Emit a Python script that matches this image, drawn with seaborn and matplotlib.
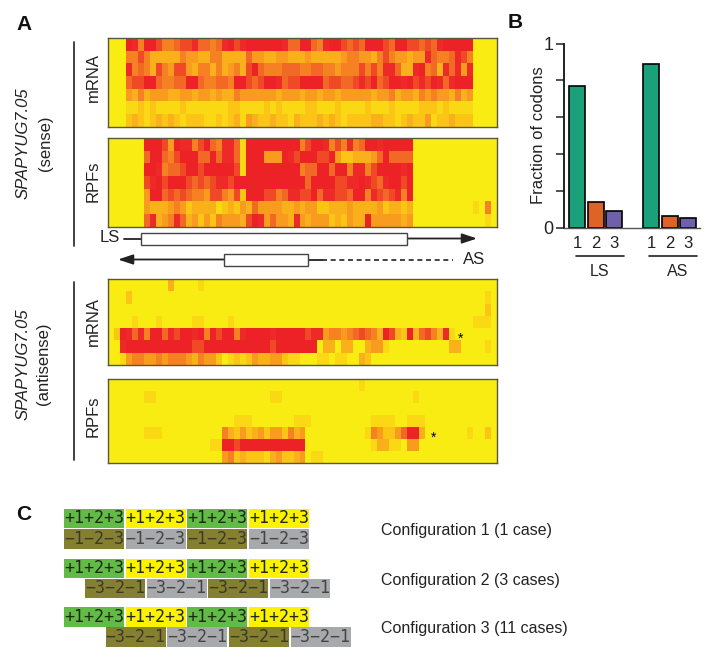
import matplotlib
matplotlib.use('Agg')
import matplotlib.pyplot as plt
import seaborn as sns
import pandas as pd
import numpy as np
from matplotlib.colors import LinearSegmentedColormap
from matplotlib.patches import Rectangle

# heat levels, 0 = yellow, 9 = red, one char per codon
sense_mrna = [
    "00098 59975 56778 66568 97899 99998 66996 58997 67699 97699 77676 89999 90000",
    "00055 75333 33544 33553 33364 43344 33343 33334 55443 57544 34486 55687 50000",
    "00085 65375 47743 55353 45379 65556 66556 65545 55757 58863 38956 38684 80000",
    "00067 79965 56699 65566 59976 79986 77999 96776 67879 67998 97879 86899 90000",
    "00043 53444 33443 44343 35444 44434 44344 34434 44443 44534 43545 44353 40000",
    "00011 21211 11211 11111 22111 12121 11122 11121 11121 11211 11222 12111 10000",
    "00023 21232 32122 21121 23143 22322 13222 32321 22223 32212 32241 22322 20000",
]
sense_rpf = [
    "00000 09997 49885 79658 86199 99999 99579 98575 85699 89999 90000 00000 00000",
    "00000 06996 57999 66968 86199 94449 87999 77942 23334 69666 60000 00000 00000",
    "00000 09985 66799 79999 97199 99999 99566 99699 58857 99998 90000 00000 00000",
    "00000 07897 99976 76788 79999 99999 99969 99977 88987 68997 90000 00000 00000",
    "00000 04996 76765 54775 47299 97756 88779 68877 69958 76785 90000 00000 00000",
    "00000 04333 45423 33312 32436 44443 34344 22333 43333 42332 30000 00000 01050",
    "00000 06834 58634 24254 44379 84644 38434 44232 43394 44443 40000 00000 00010",
]
anti_mrna = [
    "00000 00000 30000 10000 00000 00000 00000 00000 00000 00000 00000 00000 00000",
    "00020 00000 00000 00000 00000 00000 00000 00000 00000 00000 00000 00000 00010",
    "00000 00000 00000 00000 00000 00000 00000 00000 00000 00000 00000 00000 00020",
    "00001 00010 00001 10000 10000 00000 00000 00000 00000 00000 00000 00000 01110",
    "02986 85996 87998 95979 95899 99899 99978 84554 56765 39732 93675 38100 00000",
    "00899 99999 99997 79999 99999 99799 99999 03303 30034 41000 00000 00330 00010",
    "00145 54454 55543 54420 12124 33442 11000 11011 00320 00000 00000 00000 00000",
]
anti_rpf = [
    "00000 00000 00000 00000 00000 00000 00000 00000 00100 00000 00000 00000 00000",
    "00000 01100 00000 00000 00000 00110 00000 00000 00000 00000 01000 00000 00000",
    "00000 00000 00000 00000 00000 00000 00000 00000 00000 00000 00000 00000 00000",
    "00000 00000 00000 00000 01110 00000 01110 00000 00001 11100 11100 00000 00000",
    "00000 01110 00000 00005 32423 42442 53400 00000 00015 42246 99300 00000 10020",
    "00000 00000 00000 00119 97999 99999 99900 00000 00001 33110 44000 00000 00000",
    "00000 00000 00000 00004 52322 21342 23401 10000 00000 00000 00000 00000 00000",
]

# bar values
bar_names = ["LS1", "LS2", "LS3", "AS1", "AS2", "AS3"]
bar_values = [0.77, 0.14, 0.092, 0.888, 0.065, 0.049]
bar_colors = ["#1ba17a", "#dd6327", "#7060ac", "#1ba17a", "#dd6327", "#7060ac"]
bar_order = ["LS1", "LS2", "LS3", "gap", "AS1", "AS2", "AS3"]
bar_ticklabels = ["1", "2", "3", "", "1", "2", "3"]

plus_frame = "+1+2+3"
minus_frames = ["\u22121\u22122\u22123", "\u22123\u22122\u22121", "\u22123\u22122\u22121"]
config_labels = ["Configuration 1 (1 case)", "Configuration 2 (3 cases)", "Configuration 3 (11 cases)"]

sns.set_style("white")
plt.rcParams['font.family'] = ['Liberation Sans', 'DejaVu Sans']

W, H = 707, 661
fig = plt.figure(figsize=(W / 100, H / 100), dpi=100)


def px_axes(x0, y0, x1, y1):
    return fig.add_axes([x0 / W, 1 - y1 / H, (x1 - x0) / W, (y1 - y0) / H])


heat_cmap = LinearSegmentedColormap.from_list(
    "heat", [(0, "#f9ec12"), (0.22, "#fcc415"), (0.42, "#f9a01e"), (0.66, "#f26a25"), (0.92, "#ec2227"), (1, "#ec2227")])

panels = [(sense_mrna, 38, 126.5), (sense_rpf, 138, 226.5), (anti_mrna, 279, 365), (anti_rpf, 379, 463)]
for rows, y0, y1 in panels:
    ax = px_axes(108, y0, 497, y1)
    df = pd.DataFrame([[int(c) for c in r.replace(" ", "")] for r in rows])
    sns.heatmap(df, ax=ax, cmap=heat_cmap, vmin=0, vmax=9, cbar=False,
                xticklabels=False, yticklabels=False)
    for s in ax.spines.values():
        s.set_visible(True)
        s.set_color("#57573f")
        s.set_linewidth(1)

# panel B
bx = px_axes(564, 43.5, 700, 227.5)
bar_df = pd.DataFrame({"name": bar_names, "value": bar_values})
sns.barplot(data=bar_df, x="name", y="value", order=bar_order, hue="name", hue_order=bar_names,
            palette=dict(zip(bar_names, bar_colors)), legend=False, width=0.86, saturation=1,
            edgecolor="black", linewidth=1.2, ax=bx)
bx.set_xlim(-0.71, 6.64)
bx.set_ylim(0, 1)
bx.set_xticks(range(7))
bx.set_xticklabels(bar_ticklabels, fontsize=12, color="#222222")
bx.set_yticks(np.arange(0, 1.01, 0.2))
bx.set_yticklabels(["0", "", "", "", "", "1"], fontsize=13, color="#222222")
bx.tick_params(axis='y', left=True, length=5.5, width=1.1, color="#222222", pad=2)
bx.tick_params(axis='x', bottom=False, length=0, pad=6)
bx.set_xlabel("")
bx.set_ylabel("Fraction of codons", fontsize=12, color="#222222", labelpad=-2)
sns.despine(ax=bx)
bx.spines['left'].set_color("#111111")
bx.spines['left'].set_linewidth(1.3)
bx.spines['bottom'].set_color("#555555")
bx.spines['bottom'].set_linewidth(1)
bx.patch.set_alpha(0)

# everything else goes on a pixel overlay
ov = fig.add_axes([0, 0, 1, 1], zorder=5)
ov.set_xlim(0, W)
ov.set_ylim(H, 0)
ov.axis('off')
ov.patch.set_alpha(0)

txt = "#222222"
for s, x, y in [("A", 16, 25), ("B", 508, 23), ("C", 16, 515)]:
    ov.text(x, y, s, fontsize=15, fontweight='bold', color="#111111", va='center', ha='left')

ov.plot([74, 74], [41.5, 246], color="#333333", lw=1.3)
ov.plot([74, 74], [281.5, 460], color="#333333", lw=1.3)
for s, y in [("mRNA", 77), ("RPFs", 181), ("mRNA", 322), ("RPFs", 416)]:
    ov.text(93, y, s, rotation=90, fontsize=12, color=txt, ha='center', va='center')
ov.text(23, 143, "SPAPYUG7.05", rotation=90, fontsize=12, style='italic', color=txt, ha='center', va='center')
ov.text(45, 143, "(sense)", rotation=90, fontsize=12, color=txt, ha='center', va='center')
ov.text(23, 364, "SPAPYUG7.05", rotation=90, fontsize=12, style='italic', color=txt, ha='center', va='center')
ov.text(43, 364, "(antisense)", rotation=90, fontsize=12, color=txt, ha='center', va='center')

# gene diagram
ov.text(100, 238, "LS", fontsize=12, color=txt, va='center')
ov.text(463, 259.5, "AS", fontsize=12, color=txt, va='center')
ov.plot([124, 141], [238.5, 238.5], color="#222222", lw=1.3)
ov.annotate("", xy=(477, 238.5), xytext=(407, 238.5),
            arrowprops=dict(arrowstyle="-|>,head_length=0.9,head_width=0.3", color="#222222", lw=1.3,
                            shrinkA=0, shrinkB=0))
ov.add_patch(Rectangle((141, 232.5), 266, 12, fc="white", ec="#444444", lw=1, zorder=3))
ov.annotate("", xy=(118, 259.5), xytext=(224, 259.5),
            arrowprops=dict(arrowstyle="-|>,head_length=0.9,head_width=0.3", color="#222222", lw=1.3,
                            shrinkA=0, shrinkB=0))
ov.plot([307, 322], [259.5, 259.5], color="#222222", lw=1.3)
ov.plot([322, 453], [259.5, 259.5], color="#222222", lw=1.2, ls=(0, (3, 2.2)))
ov.add_patch(Rectangle((224, 254), 83.5, 12, fc="white", ec="#444444", lw=1, zorder=3))
ov.text(460.5, 338.5, "*", fontsize=10, color="black", ha='center', va='center')
ov.text(434, 437.5, "*", fontsize=10, color="black", ha='center', va='center')

# panel B brackets
for x0, x1, s, xt in [(576, 624, "LS", 600), (649, 697, "AS", 678)]:
    ov.plot([x0, x1], [256, 256], color="#222222", lw=1.2)
    ov.text(xt, 272, s, fontsize=11.5, color=txt, ha='center', va='center')

# panel C
config_rows = [(508.5, 529, 64), (558.5, 578.5, 85), (607, 627, 105.5)]
for k, (y_top, y_bot, x_bot) in enumerate(config_rows):
    for j in range(4):
        x = 64 + j * 61.7
        c = "#62bb46" if j % 2 == 0 else "#fff200"
        ov.add_patch(Rectangle((x, y_top), 60, 19.5, fc=c, ec="none"))
        ov.text(x + 30, y_top + 9.5, plus_frame, family='DejaVu Sans Mono', fontsize=12,
                color="#1c2a10", ha='center', va='center')
        x = x_bot + j * 61.7
        c = "#857f32" if j % 2 == 0 else "#a7a9ac"
        ov.add_patch(Rectangle((x, y_bot), 60, 19.5, fc=c, ec="none"))
        ov.text(x + 30, y_bot + 9.5, minus_frames[k], family='DejaVu Sans Mono', fontsize=12,
                color="#3a3a2a" if j % 2 == 0 else "#444444", ha='center', va='center')

for s, y in zip(config_labels, [530, 581, 629]):
    ov.text(381, y, s, fontsize=11.5, color=txt, va='center')

fig.savefig("out.png", dpi=100, facecolor="white")
